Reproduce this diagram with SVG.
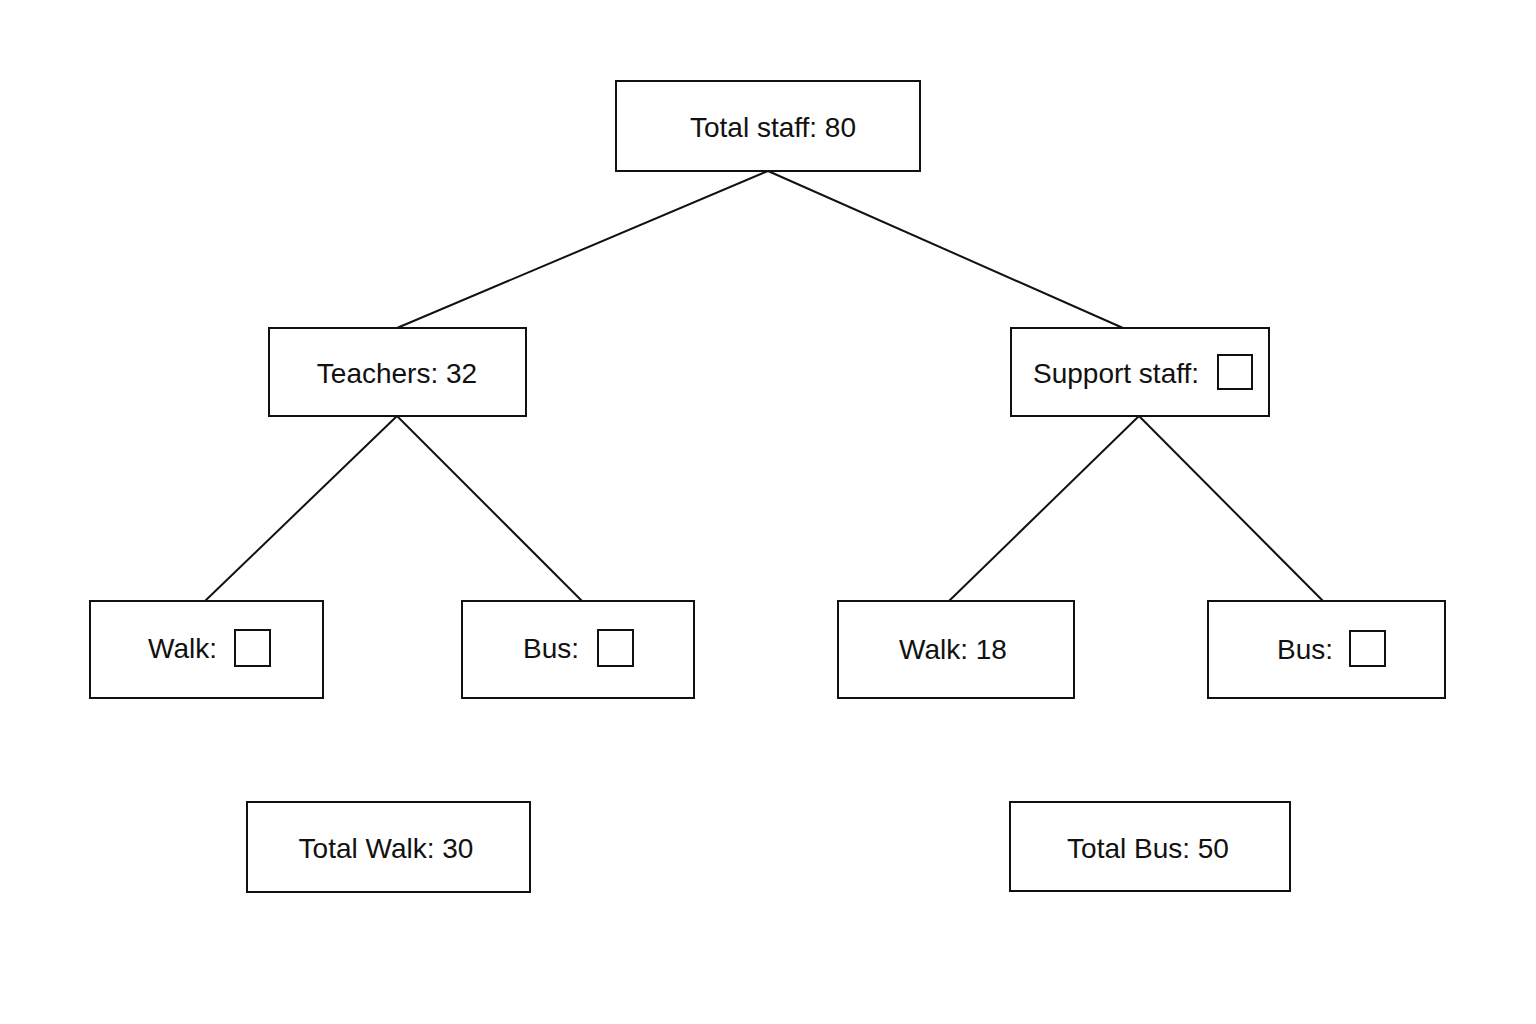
<svg xmlns="http://www.w3.org/2000/svg" width="1536" height="1024" viewBox="0 0 1536 1024">
<style>
.b{fill:#fff;stroke:#111;stroke-width:2}
.s{fill:none;stroke:#111;stroke-width:2}
.t{font-family:"Liberation Sans",Arial,sans-serif;font-size:28px;fill:#111;dominant-baseline:central}
.c{stroke:#111;stroke-width:2}
</style>
<rect width="1536" height="1024" fill="#fff"/>
<g id="connectors">
<line class="c" x1="768" y1="171" x2="397" y2="328"/>
<line class="c" x1="768" y1="171" x2="1123" y2="328"/>
<line class="c" x1="397" y1="416" x2="205" y2="601"/>
<line class="c" x1="397" y1="416" x2="582" y2="601"/>
<line class="c" x1="1139" y1="416" x2="949" y2="601"/>
<line class="c" x1="1139" y1="416" x2="1323" y2="601"/>
</g>
<g id="total"><rect class="b" x="616" y="81" width="304" height="90"/><text class="t" x="773" y="127" text-anchor="middle">Total staff: 80</text></g>
<g id="teachers"><rect class="b" x="269" y="328" width="257" height="88"/><text class="t" x="397" y="373" text-anchor="middle">Teachers: 32</text></g>
<g id="support"><rect class="b" x="1011" y="328" width="258" height="88"/><text class="t" x="1033" y="373">Support staff:</text><rect class="s" x="1218" y="355" width="34" height="34"/></g>
<g id="walkT"><rect class="b" x="90" y="601" width="233" height="97"/><text class="t" x="148" y="648">Walk:</text><rect class="s" x="235" y="630" width="35" height="36"/></g>
<g id="busT"><rect class="b" x="462" y="601" width="232" height="97"/><text class="t" x="523" y="648">Bus:</text><rect class="s" x="598" y="630" width="35" height="36"/></g>
<g id="walkS"><rect class="b" x="838" y="601" width="236" height="97"/><text class="t" x="899" y="649">Walk:  18</text></g>
<g id="busS"><rect class="b" x="1208" y="601" width="237" height="97"/><text class="t" x="1277" y="649">Bus:</text><rect class="s" x="1350" y="631" width="35" height="35"/></g>
<g id="totalWalk"><rect class="b" x="247" y="802" width="283" height="90"/><text class="t" x="386" y="848" text-anchor="middle">Total Walk:  30</text></g>
<g id="totalBus"><rect class="b" x="1010" y="802" width="280" height="89"/><text class="t" x="1148" y="848" text-anchor="middle">Total Bus:  50</text></g>
</svg>
